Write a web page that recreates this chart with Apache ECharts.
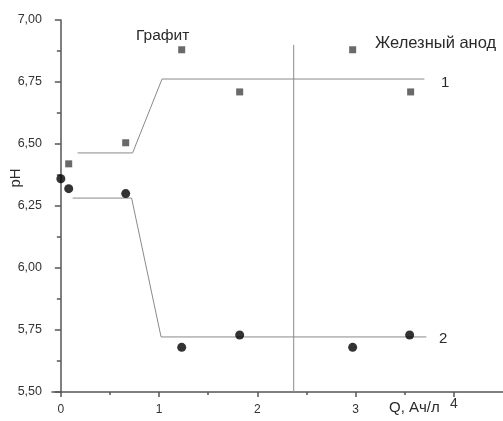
<!DOCTYPE html>
<html><head><meta charset="utf-8">
<script src="https://cdn.jsdelivr.net/npm/echarts@6/dist/echarts.min.js"></script>
<style>html,body{margin:0;padding:0;background:#fff}#c{width:503px;height:421px}</style>
</head><body><div id="c"></div>
<script>
const qSquares = [0.08, 0.66, 1.23, 1.82, 2.97, 3.56];
const phSquares = [6.42, 6.505, 6.88, 6.71, 6.88, 6.71];
const qCircles = [0.0, 0.08, 0.66, 1.23, 1.82, 2.97, 3.55];
const phCircles = [6.36, 6.32, 6.30, 5.68, 5.73, 5.68, 5.73];
const fit1Q = [0.17, 0.73, 1.03, 3.70];
const fit1Ph = [6.464, 6.464, 6.762, 6.762];
const fit2Q = [0.12, 0.72, 1.02, 3.72];
const fit2Ph = [6.282, 6.282, 5.722, 5.722];
const dividerQ = [2.37, 2.37];
const dividerPh = [5.5, 6.90];
const xTicks = [0, 1, 2, 3, 4];
const xMinorTicks = [0.5, 1.5, 2.5, 3.5];

const zip = (a, b) => a.map((v, i) => [v, b[i]]);
const FONT = 'Liberation Sans';
const axisCol = '#555';
const txt = '#2a2a2a';

const chart = echarts.init(document.getElementById('c'), null, {renderer: 'canvas'});
chart.setOption({
  animation: false,
  backgroundColor: '#fff',
  grid: {left: 52, top: 20, width: 452, height: 372, containLabel: false},
  xAxis: [{
    type: 'value', min: -0.09, max: 4.5,
    axisLine: {show: true, lineStyle: {color: axisCol, width: 1.5}},
    axisTick: {show: true, customValues: xTicks, length: 5, lineStyle: {color: axisCol, width: 1.5}},
    axisLabel: {show: true, customValues: xTicks, color: '#333', fontFamily: FONT, fontSize: 12, margin: 5,
      formatter: v => v === 4 ? '{b|4}' : '{a|' + v + '}',
      rich: {
        a: {fontFamily: FONT, fontSize: 12, color: '#333', padding: [7, 0, 0, 0]},
        b: {fontFamily: FONT, fontSize: 14, color: '#333', padding: [0, 0, 0, 0]}
      }},
    splitLine: {show: false}
  }, {
    type: 'value', min: -0.09, max: 4.5, position: 'bottom',
    axisLine: {show: false},
    axisTick: {show: true, customValues: xMinorTicks, length: 3, lineStyle: {color: axisCol, width: 1.5}},
    axisLabel: {show: false},
    splitLine: {show: false}
  }],
  yAxis: {
    type: 'value', min: 5.5, max: 7.0, interval: 0.25,
    axisLine: {show: true, lineStyle: {color: axisCol, width: 1.5}},
    axisTick: {show: true, length: 6, lineStyle: {color: axisCol, width: 1.5}},
    minorTick: {show: true, splitNumber: 2, length: 4, lineStyle: {color: axisCol, width: 1.5}},
    axisLabel: {color: '#333', fontFamily: FONT, fontSize: 12.5, margin: 10,
      formatter: v => v.toFixed(2).replace('.', ',')},
    splitLine: {show: false}
  },
  series: [
    {type: 'line', data: zip(fit1Q, fit1Ph), symbol: 'none', lineStyle: {color: '#8a8a8a', width: 1}, z: 1},
    {type: 'line', data: zip(fit2Q, fit2Ph), symbol: 'none', lineStyle: {color: '#8a8a8a', width: 1}, z: 1},
    {type: 'line', data: zip(dividerQ, dividerPh), symbol: 'none', lineStyle: {color: '#8a8a8a', width: 1}, z: 1},
    {type: 'scatter', data: zip(qSquares, phSquares), symbol: 'rect', symbolSize: 7, itemStyle: {color: '#444'}, z: 3},
    {type: 'scatter', data: zip(qCircles, phCircles), symbol: 'circle', symbolSize: 9, itemStyle: {color: '#000'}, z: 3}
  ],
  graphic: [
    {type: 'text', left: 136, top: 28, style: {text: 'Графит', fontFamily: FONT, fontSize: 15.5, fill: txt}},
    {type: 'text', left: 375, top: 35, style: {text: 'Железный анод', fontFamily: FONT, fontSize: 16.5, fill: txt}},
    {type: 'text', left: 441, top: 75, style: {text: '1', fontFamily: FONT, fontSize: 15, fill: txt}},
    {type: 'text', left: 439, top: 331, style: {text: '2', fontFamily: FONT, fontSize: 15, fill: txt}},
    {type: 'text', left: 389, top: 400, style: {text: 'Q, Ач/л', fontFamily: FONT, fontSize: 15, fill: txt}},
    {type: 'text', x: 16, y: 178, rotation: Math.PI / 2, style: {text: 'pH', fontFamily: FONT, fontSize: 15, fill: txt, align: 'center', verticalAlign: 'middle'}}
  ]
});
</script></body></html>
